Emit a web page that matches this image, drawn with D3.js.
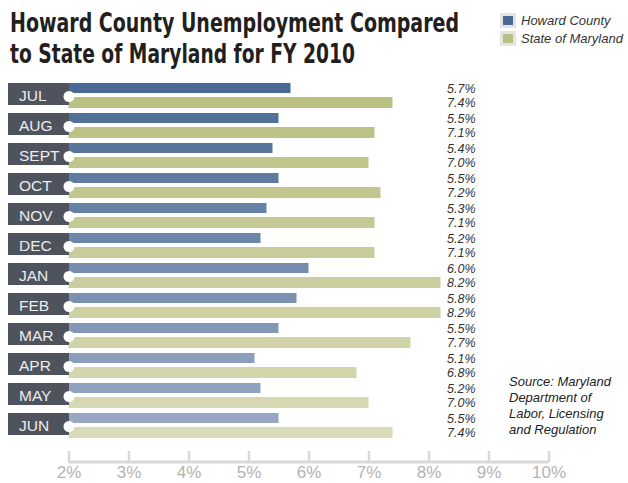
<!DOCTYPE html>
<html>
<head>
<meta charset="utf-8">
<script src="https://cdn.jsdelivr.net/npm/d3@7/dist/d3.min.js"></script>
<style>
  body { margin: 0; background: #fff; }
  svg { display: block; }
</style>
</head>
<body>
<div id="chart"></div>
<script>
// data
const months = ["JUL", "AUG", "SEPT", "OCT", "NOV", "DEC", "JAN", "FEB", "MAR", "APR", "MAY", "JUN"];
const howardRates = [5.7, 5.5, 5.4, 5.5, 5.3, 5.2, 6.0, 5.8, 5.5, 5.1, 5.2, 5.5];
const marylandRates = [7.4, 7.1, 7.0, 7.2, 7.1, 7.1, 8.2, 8.2, 7.7, 6.8, 7.0, 7.4];
const tickValues = [2, 3, 4, 5, 6, 7, 8, 9, 10];
const seriesNames = ["Howard County", "State of Maryland"];
const titleLines = ["Howard County Unemployment Compared", "to State of Maryland for FY 2010"];
const sourceLines = ["Source: Maryland", "Department of", "Labor, Licensing", "and Regulation"];

const width = 628, height = 483;
const rowTop = 83, rowStep = 30;

const svg = d3.select("#chart").append("svg")
  .attr("width", width)
  .attr("height", height);

const x = d3.scaleLinear().domain([2, 10]).range([68.5, 548.5]);
const y = d3.scaleBand().domain(months).range([rowTop, rowTop + rowStep * months.length]);

// bars fade out a little from top to bottom
const howardColor = d3.scaleLinear().domain([0, months.length - 1]).range(["#4a6a96", "#98a8c2"]);
const marylandColor = d3.scaleLinear().domain([0, months.length - 1]).range(["#b9c081", "#d9dab7"]);

// title
svg.selectAll("text.title")
  .data(titleLines)
  .enter().append("text")
  .attr("class", "title")
  .attr("x", 10)
  .attr("y", (d, i) => 31.5 + i * 31.5)
  .attr("textLength", (d, i) => i === 0 ? 449 : 345)
  .attr("lengthAdjust", "spacingAndGlyphs")
  .style("font-family", "'Liberation Sans Narrow', 'DejaVu Sans Condensed', 'Arial Narrow', sans-serif")
  .style("font-weight", "bold")
  .style("font-size", "27px")
  .style("fill", "#231f20")
  .text(d => d);

// legend
const legend = svg.selectAll("g.legend")
  .data(seriesNames)
  .enter().append("g")
  .attr("class", "legend")
  .attr("transform", (d, i) => `translate(500,${13 + i * 18})`);

legend.append("rect")
  .attr("width", 16).attr("height", 15)
  .attr("fill", "#e4e4e4");
legend.append("rect")
  .attr("x", 3).attr("y", 3)
  .attr("width", 10).attr("height", 9)
  .attr("fill", (d, i) => i === 0 ? "#4a6a96" : "#b9c081");
legend.append("text")
  .attr("x", 21).attr("y", 12)
  .style("font-family", "'Liberation Sans', Arial, sans-serif")
  .style("font-style", "italic")
  .style("font-size", "13px")
  .style("fill", "#333")
  .text(d => d);

// one group per month
const rows = svg.selectAll("g.row")
  .data(months)
  .enter().append("g")
  .attr("class", "row")
  .attr("transform", d => `translate(0,${y(d)})`);

rows.append("rect")
  .attr("x", x(2))
  .attr("y", 0)
  .attr("width", (d, i) => x(howardRates[i]) - x(2))
  .attr("height", 10)
  .attr("fill", (d, i) => howardColor(i));

rows.append("rect")
  .attr("x", x(2))
  .attr("y", 14)
  .attr("width", (d, i) => x(marylandRates[i]) - x(2))
  .attr("height", 11)
  .attr("fill", (d, i) => marylandColor(i));

rows.append("rect")
  .attr("x", 8)
  .attr("y", 0)
  .attr("width", 61)
  .attr("height", 22)
  .attr("fill", "#4f535e");

rows.append("circle")
  .attr("cx", 69)
  .attr("cy", 13.5)
  .attr("r", 5.5)
  .attr("fill", "#fff");

rows.append("text")
  .attr("x", 19)
  .attr("y", 18)
  .style("font-family", "'Liberation Sans', Arial, sans-serif")
  .style("font-size", "15.5px")
  .style("fill", "#ececec")
  .text(d => d);

rows.append("text")
  .attr("x", 447)
  .attr("y", 10)
  .style("font-family", "'Liberation Sans', Arial, sans-serif")
  .style("font-style", "italic")
  .style("font-size", "12.5px")
  .style("fill", "#333")
  .text((d, i) => howardRates[i].toFixed(1) + "%");

rows.append("text")
  .attr("x", 447)
  .attr("y", 24)
  .style("font-family", "'Liberation Sans', Arial, sans-serif")
  .style("font-style", "italic")
  .style("font-size", "12.5px")
  .style("fill", "#333")
  .text((d, i) => marylandRates[i].toFixed(1) + "%");

// source note
svg.append("text")
  .attr("x", 509)
  .attr("y", 386)
  .style("font-family", "'Liberation Sans', Arial, sans-serif")
  .style("font-style", "italic")
  .style("font-size", "13px")
  .style("fill", "#222")
  .selectAll("tspan")
  .data(sourceLines)
  .enter().append("tspan")
  .attr("x", 509)
  .attr("dy", (d, i) => i === 0 ? 0 : 16)
  .text(d => d);

// axis
const axis = svg.append("g")
  .attr("transform", "translate(0,462)")
  .call(d3.axisBottom(x)
    .tickValues(tickValues)
    .tickSize(-11)
    .tickPadding(4)
    .tickFormat(d => d + "%"));

axis.select(".domain")
  .attr("d", `M${x(2)},0H${x(10)}`)
  .attr("stroke", "#d9d9d9")
  .attr("stroke-width", 3);
axis.selectAll(".tick line")
  .attr("stroke", "#d9d9d9")
  .attr("stroke-width", 2.5);
axis.selectAll(".tick text")
  .attr("dy", "0.71em")
  .style("font-family", "'Liberation Sans', Arial, sans-serif")
  .style("font-size", "17px")
  .style("fill", "#b3b3b3");
</script>
</body>
</html>
